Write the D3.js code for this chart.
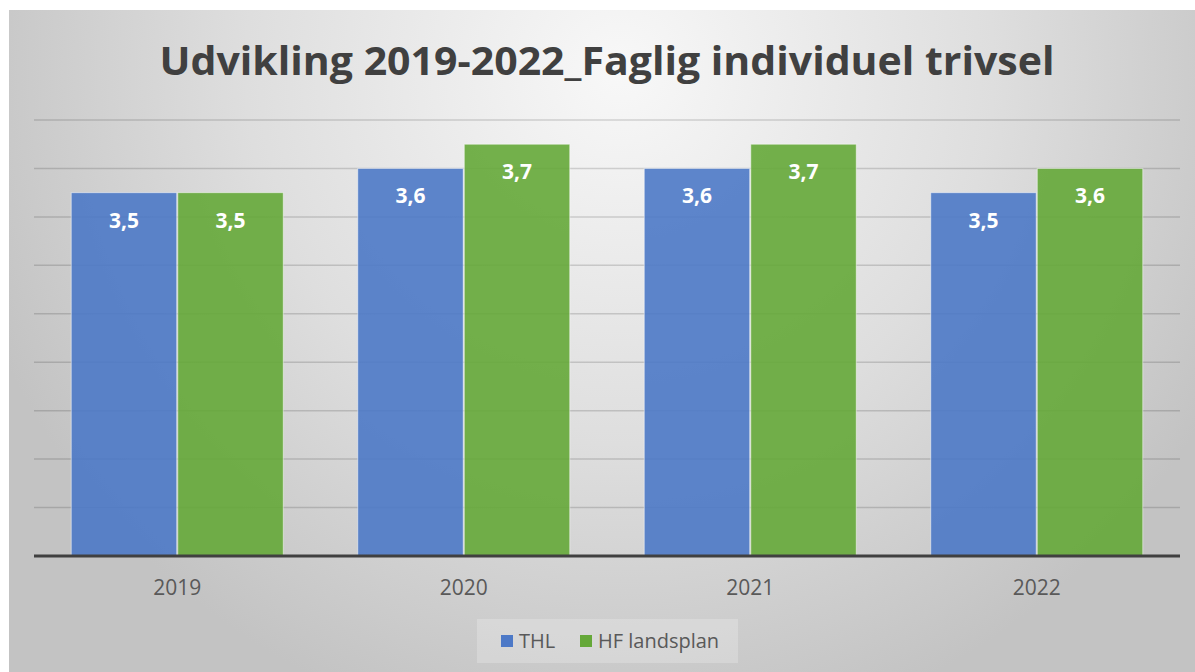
<!DOCTYPE html>
<html lang="en">

<head>
    <meta charset="UTF-8">
    <title>Udvikling 2019-2022_Faglig individuel trivsel</title>
    <script src="https://d3js.org/d3.v7.min.js"></script>
    <style>
        body {
            margin: 0;
            background: #ffffff;
        }

        text {
            font-family: "Open Sans", sans-serif;
        }

        .grid line {
            stroke: #000;
            stroke-opacity: 0.15;
            stroke-width: 1.5px;
        }

        .cat-label {
            font-size: 21px;
            fill: #595959;
            text-anchor: middle;
        }

        .bar-label {
            font-size: 21px;
            font-weight: bold;
            fill: #ffffff;
            text-anchor: middle;
        }
    </style>
</head>

<body>
    <script>
        const years = ["2019", "2020", "2021", "2022"];
        const seriesNames = ["THL", "HF landsplan"];
        const thlValues = [3.5, 3.6, 3.6, 3.5];
        const hfValues = [3.5, 3.7, 3.7, 3.6];
        const gridTicks = [2.2, 2.4, 2.6, 2.8, 3.0, 3.2, 3.4, 3.6, 3.8];
        const seriesColors = ["#4d79c7", "#65a839"];

        const width = 1195;
        const height = 672;
        const plot = { left: 34, right: 1180, top: 120, bottom: 556 };

        const rows = years.map((y, i) => ({ year: y, values: [thlValues[i], hfValues[i]] }));

        const svg = d3.select("body").append("svg")
            .attr("width", width)
            .attr("height", height);

        const defs = svg.append("defs");
        const bg = defs.append("radialGradient")
            .attr("id", "bg")
            .attr("gradientUnits", "userSpaceOnUse")
            .attr("cx", 620).attr("cy", 70).attr("r", 680);
        bg.append("stop").attr("offset", "0").attr("stop-color", "#f8f8f8");
        bg.append("stop").attr("offset", "0.55").attr("stop-color", "#dedede");
        bg.append("stop").attr("offset", "1").attr("stop-color", "#c3c3c3");

        svg.append("rect")
            .attr("x", 9).attr("y", 10)
            .attr("width", width - 9).attr("height", height - 10)
            .attr("fill", "url(#bg)");

        svg.append("text")
            .attr("x", 607)
            .attr("y", 75)
            .attr("text-anchor", "middle")
            .attr("font-size", 39)
            .attr("font-weight", "bold")
            .attr("fill", "#404040")
            .attr("textLength", 895)
            .attr("lengthAdjust", "spacingAndGlyphs")
            .text("Udvikling 2019-2022_Faglig individuel trivsel");

        const x0 = d3.scaleBand()
            .domain(years)
            .range([plot.left, plot.right])
            .paddingInner(0.26)
            .paddingOuter(0.13);

        const x1 = d3.scaleBand()
            .domain(seriesNames)
            .range([0, x0.bandwidth()])
            .paddingInner(0.01);

        const y = d3.scaleLinear()
            .domain([2, 3.8])
            .range([plot.bottom, plot.top]);

        svg.append("g")
            .attr("class", "grid")
            .selectAll("line")
            .data(gridTicks)
            .enter().append("line")
            .attr("x1", plot.left)
            .attr("x2", plot.right)
            .attr("y1", d => y(d))
            .attr("y2", d => y(d));

        const groups = svg.selectAll(".group")
            .data(rows)
            .enter().append("g")
            .attr("class", "group")
            .attr("transform", d => "translate(" + x0(d.year) + ",0)");

        groups.selectAll("rect")
            .data(d => d.values.map((v, i) => ({ name: seriesNames[i], value: v, idx: i })))
            .enter().append("rect")
            .attr("x", d => x1(d.name))
            .attr("y", d => y(d.value))
            .attr("width", x1.bandwidth())
            .attr("height", d => y(2) - y(d.value))
            .attr("fill", d => seriesColors[d.idx])
            .attr("fill-opacity", 0.9)
            .attr("stroke", "#ffffff")
            .attr("stroke-opacity", 0.5)
            .attr("stroke-width", 1);

        groups.selectAll(".bar-label")
            .data(d => d.values.map((v, i) => ({ name: seriesNames[i], value: v })))
            .enter().append("text")
            .attr("class", "bar-label")
            .attr("x", d => x1(d.name) + x1.bandwidth() / 2)
            .attr("y", d => y(d.value) + 35)
            .text(d => d3.format(".1f")(d.value).replace(".", ","));

        svg.append("line")
            .attr("x1", plot.left)
            .attr("x2", plot.right)
            .attr("y1", plot.bottom)
            .attr("y2", plot.bottom)
            .attr("stroke", "#404040")
            .attr("stroke-width", 3);

        svg.selectAll(".cat-label")
            .data(years)
            .enter().append("text")
            .attr("class", "cat-label")
            .attr("x", d => x0(d) + x0.bandwidth() / 2)
            .attr("y", 595)
            .text(d => d);

        // legend
        const legend = svg.append("g");
        legend.append("rect")
            .attr("x", 477).attr("y", 619)
            .attr("width", 261).attr("height", 44)
            .attr("fill", "#ffffff")
            .attr("fill-opacity", 0.22);

        const legendX = [501, 580];
        seriesNames.forEach((name, i) => {
            legend.append("rect")
                .attr("x", legendX[i]).attr("y", 635)
                .attr("width", 12).attr("height", 12)
                .attr("fill", seriesColors[i]);
            legend.append("text")
                .attr("x", legendX[i] + 18)
                .attr("y", 648)
                .attr("font-size", 20)
                .attr("fill", "#595959")
                .text(name);
        });
    </script>
</body>

</html>
